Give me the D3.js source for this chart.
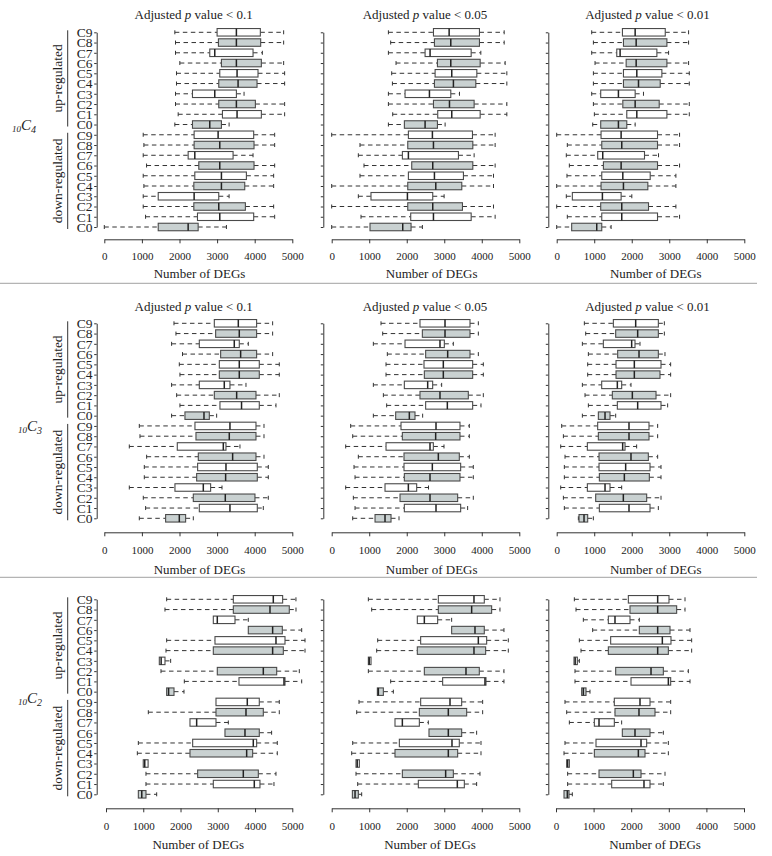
<!DOCTYPE html>
<html><head><meta charset="utf-8">
<script src="https://cdn.jsdelivr.net/npm/d3@7"></script>
<style>body{margin:0;background:#fff} svg{display:block}</style>
</head><body><svg id="chart" width="772" height="856"></svg>
<script>
// ---------------- DATA ----------------
const categories = ["C9","C8","C7","C6","C5","C4","C3","C2","C1","C0"]; // top to bottom within each group
const regulation = ["up-regulated","down-regulated"];
const combinations = ["4","3","2"];            // 10C4, 10C3, 10C2
const pThresholds = ["0.1","0.05","0.01"];
const xTickValues = [0,1000,2000,3000,4000,5000];
const axisTitle = "Number of DEGs";

// each entry: [min, q1, median, q3, max], order C9..C0
const c4_p1_up = [[1876,3000,3513,4150,4770],[1894,3035,3513,4159,4770],[1894,2805,2938,3956,4204],[2009,3115,3513,4177,4770],[1920,3071,3531,4088,4796],[1920,3044,3558,4062,4796],[1894,2345,2938,3513,3717],[1894,3044,3513,4018,4796],[1965,3142,3531,4177,4796],[1876,2345,2805,3115,3319]];
const c4_p1_down = [[1035,2389,3027,3973,4531],[1053,2389,3071,3982,4531],[1035,2230,2407,3425,3956],[1124,2513,3071,3982,4531],[1035,2407,3115,3779,4504],[1053,2381,3115,3735,4504],[1035,1434,2389,3044,3319],[1035,2381,3044,3752,4504],[1097,2478,3071,3973,4531],[0,1434,2230,2496,3248]];
const c4_p05_up = [[1511,2712,3130,3938,4597],[1572,2738,3174,3938,4597],[1511,2489,2622,3717,3975],[1715,2818,3174,3957,4623],[1599,2756,3200,3868,4668],[1618,2738,3244,3841,4668],[1511,1955,2605,3174,3406],[1511,2712,3139,3796,4668],[1626,2826,3200,3957,4668],[1511,1937,2489,2818,3023]];
const c4_p05_down = [[0,2044,2684,3752,4356],[754,2027,2712,3761,4356],[710,1884,2044,3378,3796],[861,2133,2693,3761,4356],[754,2044,2738,3511,4312],[0,2027,2774,3467,4312],[710,1047,2018,2693,2996],[0,2027,2693,3485,4312],[781,2106,2712,3717,4356],[0,1021,1893,2115,2417]];
const c4_p01_up = [[933,1752,2091,2893,3515],[978,1779,2118,2937,3515],[933,1601,1690,2670,2982],[1022,1851,2118,2937,3515],[978,1779,2135,2803,3534],[978,1779,2180,2759,3534],[933,1173,1645,2091,2313],[978,1762,2091,2732,3534],[1004,1868,2135,2937,3534],[960,1173,1645,1868,2091]];
const c4_p01_down = [[0,1182,1717,2687,3275],[283,1201,1734,2687,3275],[256,1093,1227,2340,2714],[337,1245,1717,2687,3275],[274,1201,1762,2492,3177],[0,1182,1779,2429,3177],[256,417,1218,1717,2002],[0,1173,1734,2447,3177],[283,1201,1734,2687,3275],[0,399,1067,1201,1450]];

const c3_p1_up = [[1853,2926,3564,4051,4477],[1906,2961,3590,4051,4477],[1790,2527,3457,3590,3830],[2080,3094,3626,4051,4477],[1995,3059,3590,4122,4654],[2012,3059,3590,4122,4654],[1790,2527,3191,3342,3768],[1924,2926,3520,4034,4654],[2012,3076,3650,4122,4566],[1790,2145,2651,2793,2988]];
const c3_p1_down = [[931,2411,3342,4034,4247],[949,2438,3324,4034,4247],[665,1941,3165,3236,3608],[1126,2500,3413,4034,4247],[1064,2482,3236,4069,4362],[1064,2456,3227,4069,4362],[665,1879,2633,2828,3130],[1037,2367,3218,4007,4362],[1099,2527,3342,4069,4229],[931,1631,1995,2163,2367]];
const c3_p05_up = [[1314,2353,3020,3686,3908],[1359,2416,3020,3686,3908],[1110,1954,2886,3002,3242],[1483,2504,3091,3686,3908],[1448,2460,2975,3757,4041],[1448,2469,2975,3757,4041],[1110,1936,2558,2691,2931],[1377,2353,2886,3641,4041],[1465,2504,3082,3757,3979],[1110,1705,2069,2220,2424]];
const c3_p05_down = [[506,1847,2780,3419,3668],[560,1883,2771,3419,3668],[373,1448,2620,2709,2993],[710,1927,2842,3401,3668],[595,1927,2682,3437,3774],[622,1936,2620,3419,3774],[373,1421,2043,2265,2580],[577,1821,2620,3357,3774],[622,1936,2780,3437,3623],[560,1155,1421,1581,1794]];
const c3_p01_up = [[737,1510,2105,2709,2869],[773,1572,2158,2709,2869],[684,1243,1998,2087,2220],[844,1625,2194,2709,2886],[826,1581,2069,2780,3037],[826,1581,2069,2753,3037],[684,1199,1616,1732,1980],[755,1483,2016,2647,3037],[844,1616,2158,2780,2957],[684,1110,1288,1421,1572]];
const c3_p01_down = [[133,1092,1927,2460,2691],[178,1110,1927,2460,2691],[107,817,1758,1821,2131],[222,1128,1980,2442,2691],[204,1128,1838,2487,2780],[204,1137,1803,2469,2780],[107,817,1288,1421,1732],[178,1039,1776,2398,2780],[204,1137,1927,2487,2709],[577,595,728,826,977]];

const c2_p1_up = [[1628,3417,4490,4741,5098],[1583,3417,4401,4919,5099],[2880,2880,2987,3462,3819],[3819,3819,4472,4732,5252],[1628,2925,4562,4804,5341],[1610,2880,4472,4759,5341],[1431,1431,1480,1583,1735],[1476,2987,4222,4581,5188],[2102,3569,4777,4804,5252],[1628,1628,1680,1825,2093]];
const c2_p1_down = [[2952,2952,3792,4114,4651],[1136,2952,3757,4222,4651],[2254,2254,2433,2952,3283],[3193,3193,3730,4114,4445],[868,2326,3953,4043,4597],[841,2254,3775,3936,4597],[1000,1000,1040,1130,1130],[1073,2460,3685,4088,4562],[1073,2880,3980,4132,4508],[868,868,960,1073,1360]];
const c2_p05_up = [[977,2842,3792,4067,4485],[1066,2842,3730,4263,4485],[2282,2282,2469,2824,3197],[3197,3197,3819,4067,4591],[1226,2371,3908,4130,4707],[1199,2282,3792,4103,4707],[977,977,1000,1048,1048],[977,2469,3579,3934,4591],[1572,2957,4085,4112,4591],[1217,1217,1243,1377,1643]];
const c2_p05_down = [[728,2371,3153,3464,4023],[666,2336,3108,3597,4023],[1687,1687,1883,2336,2575],[2593,2593,3108,3464,3863],[560,1803,3206,3401,3979],[533,1687,3108,3357,3979],[648,648,680,737,737],[648,1883,3037,3242,3952],[693,2309,3348,3535,3863],[551,551,622,710,799]];
const c2_p01_up = [[488,1924,2704,3005,3431],[532,1968,2704,3209,3431],[727,1392,1569,1968,2216],[975,2216,2704,3032,3564],[621,1454,2828,3058,3608],[665,1392,2704,2988,3608],[479,479,510,567,621],[505,1587,2527,2855,3520],[505,1995,2988,3050,3564],[683,683,727,798,904]];
const c2_p01_down = [[239,1551,2234,2500,3050],[284,1569,2207,2633,3050],[355,1020,1144,1551,1746],[1764,1764,2101,2500,2855],[239,1064,2261,2411,2988],[213,1020,2190,2367,2988],[284,284,310,355,355],[310,1144,2057,2261,2899],[310,1481,2340,2500,2855],[213,213,301,346,434]];

const panelData = [
  [[c4_p1_up,c4_p1_down],[c4_p05_up,c4_p05_down],[c4_p01_up,c4_p01_down]],
  [[c3_p1_up,c3_p1_down],[c3_p05_up,c3_p05_down],[c3_p01_up,c3_p01_down]],
  [[c2_p1_up,c2_p1_down],[c2_p05_up,c2_p05_down],[c2_p01_up,c2_p01_down]]
];

// ---------------- LAYOUT ----------------
const FONT = "'Liberation Serif','Times New Roman',serif";
const INK = "#222";
const GREY_FILL = "#c9d1d1";
const rows = [
  {yTop:32.3, yBot:227, axisY:239.3, titleY:19, tickY:260.5, xTitleY:278, labelX:12, labelY:130, showTitle:true,
   xr:[[104.3,292.3],[331.7,519.3],[556.7,744.3]], xTitleX:[199.5,431.7,655.8]},
  {yTop:323.3, yBot:518.3, axisY:532.3, titleY:311, tickY:554, xTitleY:574, labelX:18, labelY:431, showTitle:true,
   xr:[[104.3,292.3],[331.7,519.3],[556.7,744.3]], xTitleX:[199.5,431.7,655.8]},
  {yTop:599.3, yBot:794.3, axisY:808.3, titleY:0, tickY:830.5, xTitleY:849, labelX:18, labelY:703, showTitle:false,
   xr:[[106,292.3],[331.7,519.3],[556,744]], xTitleX:[198.3,430,655]}
];
const yAxisX = [96.7, 323.3, 548.3];
const titleX = [193.7, 425, 647.5];
const separators = [283.3, 577.3];
const boxH = 7.5, capH = 4;

const svg = d3.select("#chart");
svg.append("rect").attr("width",772).attr("height",856).attr("fill","#fff");

const keys = [...categories.map(c=>"up-"+c), ...categories.map(c=>"down-"+c)];

separators.forEach(sy=>{
  svg.append("line").attr("x1",0).attr("x2",757).attr("y1",sy).attr("y2",sy)
    .attr("stroke","#b4b4b4").attr("stroke-width",1.3);
});

rows.forEach((L,ri)=>{
  const y = d3.scalePoint().domain(keys).range([L.yTop,L.yBot]);

  // combination label e.g. 10C4
  const lab = svg.append("text").attr("x",L.labelX).attr("y",L.labelY)
    .attr("font-family",FONT).attr("fill",INK).attr("font-style","italic");
  lab.append("tspan").attr("font-size",9).attr("dy",1.5).text("10");
  lab.append("tspan").attr("font-size",15).attr("dy",-1.5).text("C");
  lab.append("tspan").attr("font-size",10).attr("dy",2.5).text(combinations[ri]);

  // group labels + bracket lines
  regulation.forEach((reg,gi)=>{
    const pre = gi===0 ? "up-" : "down-";
    const y0 = y(pre+categories[0]), y1 = y(pre+categories[categories.length-1]);
    svg.append("line").attr("x1",67.7).attr("x2",67.7).attr("y1",y0-2).attr("y2",y1+2)
      .attr("stroke","#333").attr("stroke-width",1);
    svg.append("text").attr("transform",`translate(62,${(y0+y1)/2}) rotate(-90)`)
      .attr("text-anchor","middle").attr("font-family",FONT).attr("font-size",13.5)
      .attr("fill",INK).text(reg);
  });

  for(let pi=0; pi<3; pi++){
    const x = d3.scaleLinear().domain([0,5000]).range(L.xr[pi]);
    const g = svg.append("g");

    // y axis
    const yAxis = d3.axisLeft(y).tickSize(2.5).tickSizeOuter(0).tickPadding(1.8)
      .tickFormat(pi===0 ? (k=>k.split("-")[1]) : (()=>""));
    const ya = g.append("g").attr("transform",`translate(${yAxisX[pi]},0)`).call(yAxis);
    ya.selectAll("path,line").attr("stroke","#333").attr("stroke-width",1);
    ya.selectAll("text").attr("font-family",FONT).attr("font-size",13.5).attr("fill",INK);

    // x axis
    const xAxis = d3.axisBottom(x).tickValues(xTickValues).tickSize(4).tickSizeOuter(0).tickFormat(d3.format("d"));
    const xa = g.append("g").attr("transform",`translate(0,${L.axisY})`).call(xAxis);
    xa.selectAll("path,line").attr("stroke","#333").attr("stroke-width",1);
    xa.selectAll("text").attr("font-family",FONT).attr("font-size",11).attr("fill",INK)
      .attr("y",L.tickY-L.axisY).attr("dy",0);

    // axis title
    g.append("text").attr("x",L.xTitleX[pi]).attr("y",L.xTitleY)
      .attr("text-anchor","middle").attr("font-family",FONT).attr("font-size",13).attr("fill",INK)
      .text(axisTitle);

    // panel title
    if(L.showTitle){
      const t = g.append("text").attr("x",titleX[pi]).attr("y",L.titleY).attr("text-anchor","middle")
        .attr("font-family",FONT).attr("font-size",13).attr("fill",INK);
      t.append("tspan").text("Adjusted ");
      t.append("tspan").attr("font-style","italic").text("p");
      t.append("tspan").text(" value < " + pThresholds[pi]);
    }

    // boxes
    const [upArr, downArr] = panelData[ri][pi];
    const items = [];
    upArr.forEach((v,i)=>items.push({key:"up-"+categories[i], v, grey: i%2===1}));
    downArr.forEach((v,i)=>items.push({key:"down-"+categories[i], v, grey: i%2===1}));

    const bg = g.selectAll("g.box").data(items).join("g").attr("class","box");
    bg.each(function(d){
      const s = d3.select(this);
      const cy = y(d.key);
      const [mn,q1,md,q3,mx] = d.v;
      if(mn < q1){
        s.append("line").attr("x1",x(mn)).attr("x2",x(q1)).attr("y1",cy).attr("y2",cy)
          .attr("stroke","#333").attr("stroke-width",1).attr("stroke-dasharray","4.5,3.5");
        s.append("line").attr("x1",x(mn)).attr("x2",x(mn)).attr("y1",cy-capH/2).attr("y2",cy+capH/2)
          .attr("stroke","#333").attr("stroke-width",1);
      }
      if(mx > q3){
        s.append("line").attr("x1",x(q3)).attr("x2",x(mx)).attr("y1",cy).attr("y2",cy)
          .attr("stroke","#333").attr("stroke-width",1).attr("stroke-dasharray","4.5,3.5");
        s.append("line").attr("x1",x(mx)).attr("x2",x(mx)).attr("y1",cy-capH/2).attr("y2",cy+capH/2)
          .attr("stroke","#333").attr("stroke-width",1);
      }
      s.append("rect").attr("x",x(q1)).attr("y",cy-boxH/2)
        .attr("width",Math.max(0.5,x(q3)-x(q1))).attr("height",boxH)
        .attr("fill", d.grey ? GREY_FILL : "#fff").attr("stroke","#4a4a4a").attr("stroke-width",1.1);
      s.append("line").attr("x1",x(md)).attr("x2",x(md)).attr("y1",cy-boxH/2).attr("y2",cy+boxH/2)
        .attr("stroke","#222").attr("stroke-width",1.5);
    });
  }
});
</script></body></html>
